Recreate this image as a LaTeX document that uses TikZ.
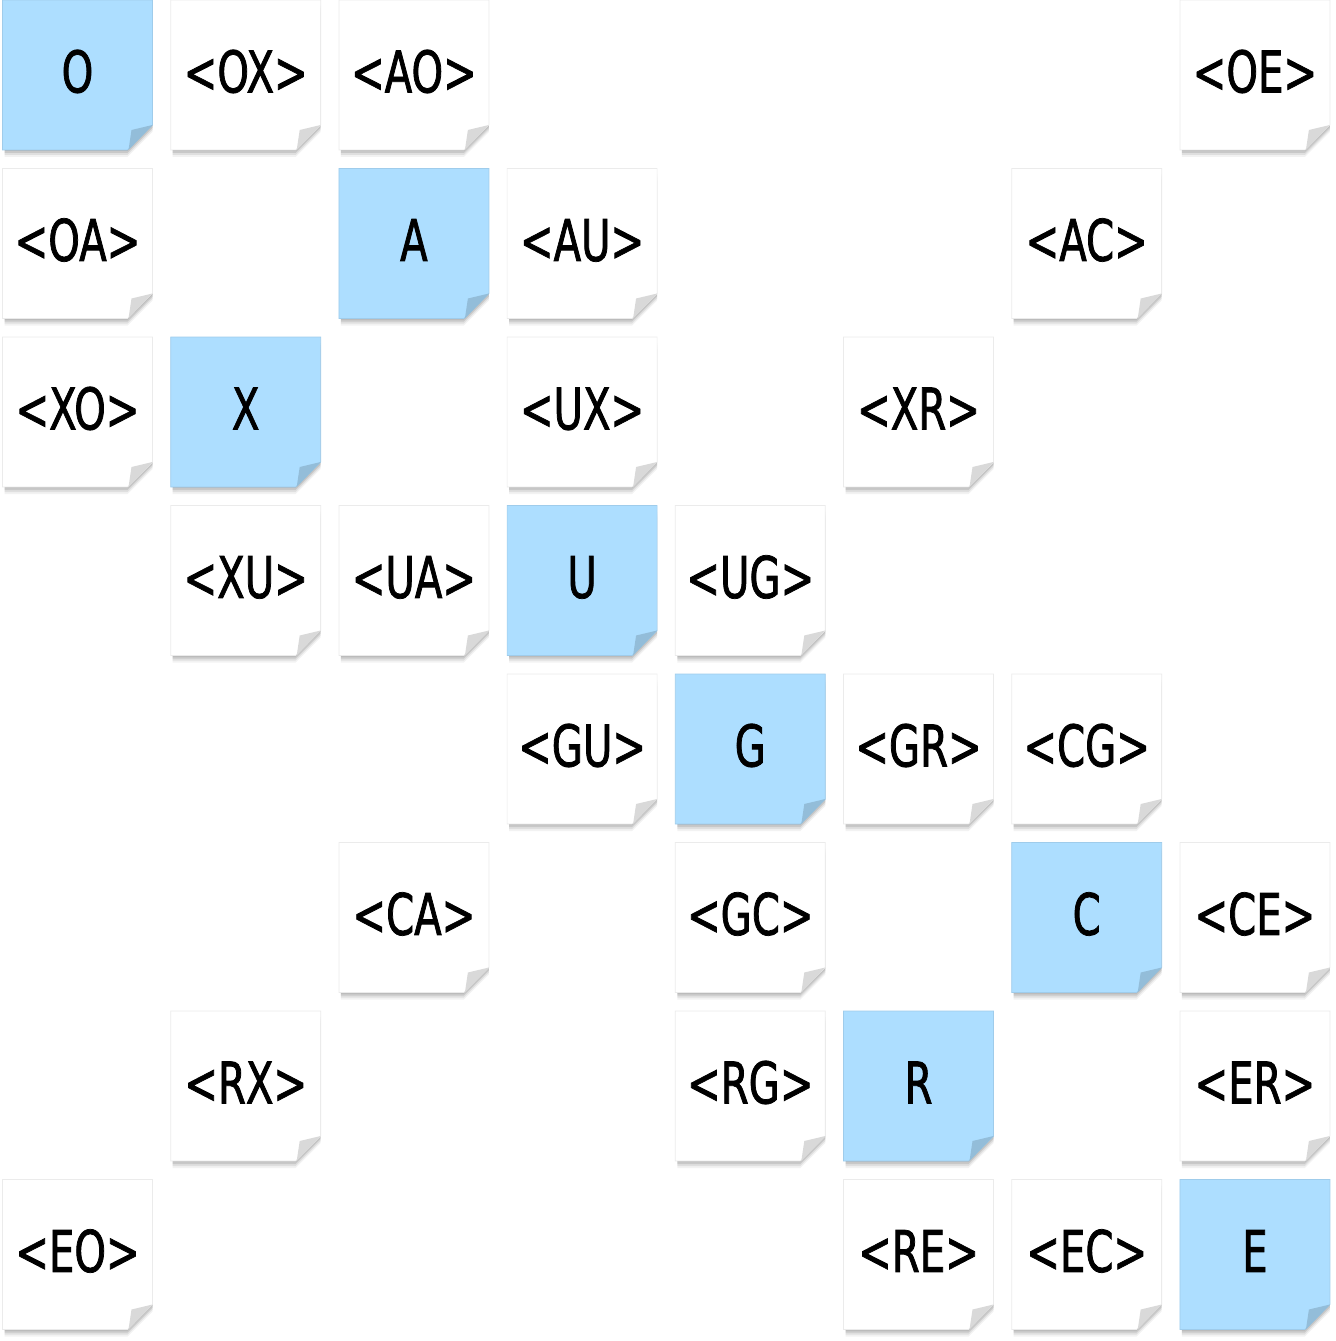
\documentclass[tikz,border=0pt]{standalone}
\usepackage{fontspec}
\setmainfont{DejaVu Sans}[FakeStretch=0.7,FakeBold=1.3]
\usetikzlibrary{positioning}
\definecolor{keyblue}{HTML}{ADDEFF}
\definecolor{plain}{HTML}{FFFFFF}
\tikzset{
  pics/note/.style={code={
    \foreach \s/\o in {7/0.05,5/0.08,3/0.1,1/0.1}
      \fill[black,opacity=\o] (-73,-70+\s) -- (75,-70+\s) -- (75,50+\s) -- (50,75+\s) -- (-73,75+\s) -- cycle;
    \filldraw[fill=#1,draw=#1!92!black,line width=0.4pt] (-75,-75) -- (75,-75) -- (75,50) -- (50,75) -- (-75,75) -- cycle;
    \fill[#1!85!black] (75,50) -- (54,55) -- (51,75) -- cycle;
  }},
  tag/.style={font=\fontsize{32.7}{36}\selectfont,inner sep=0pt,
    text height=23.8pt,text depth=0pt,yshift=2pt}
}
\begin{document}
\begin{tikzpicture}[x=0.02cm,y=-0.02cm]
  \useasboundingbox (0,0) rectangle (1335,1341);
  \foreach \c/\r/\t/\k in {
      0/0/O/keyblue, 1/0/<OX>/plain, 2/0/<AO>/plain, 7/0/<OE>/plain,
      0/1/<OA>/plain, 2/1/A/keyblue, 3/1/<AU>/plain, 6/1/<AC>/plain,
      0/2/<XO>/plain, 1/2/X/keyblue, 3/2/<UX>/plain, 5/2/<XR>/plain,
      1/3/<XU>/plain, 2/3/<UA>/plain, 3/3/U/keyblue, 4/3/<UG>/plain,
      3/4/<GU>/plain, 4/4/G/keyblue, 5/4/<GR>/plain, 6/4/<CG>/plain,
      2/5/<CA>/plain, 4/5/<GC>/plain, 6/5/C/keyblue, 7/5/<CE>/plain,
      1/6/<RX>/plain, 4/6/<RG>/plain, 5/6/R/keyblue, 7/6/<ER>/plain,
      0/7/<EO>/plain, 5/7/<RE>/plain, 6/7/<EC>/plain, 7/7/E/keyblue}
  {
    \pic at (\c*168.2+77.5, \r*168.5+75) {note=\k};
    \node[tag] (n\r\c) at (\c*168.2+77.5, \r*168.5+75) {\t};
  }
\end{tikzpicture}
\end{document}
